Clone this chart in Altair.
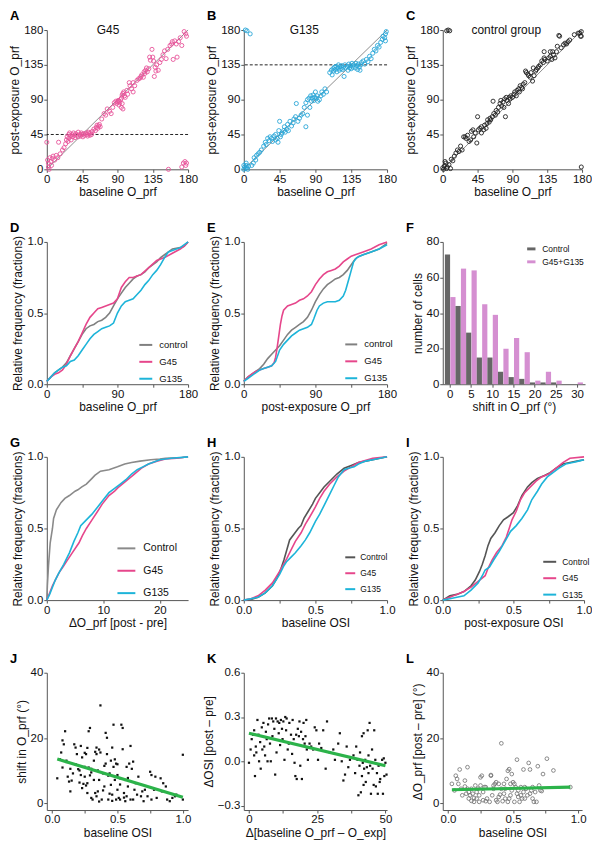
import altair as alt
import pandas as pd

FONT = "Liberation Sans"
PINK = "#e6468b"
CYAN = "#1db4d9"
GREY = "#808080"
DARK = "#555555"
ORCHID = "#d58fd1"
BARGREY = "#666666"
GREEN = "#2cb34a"

W = 142
W2 = 144
ROW_H = [140, 143, 144, 138]

# ---------------- Panel A-C data (baseline, post-exposure) ----------------
T180 = [0, 45, 90, 135, 180]
DIAG = [0, 180]
A_points = [(0,35),(1,12),(2,8),(2,3),(3,0),(4,15),(5,10),(6,5),(7,14),(8,17),(10,12),(12,18),(14,15),(15,35),(17,20),
            (20,25),(22,28),(24,33),(25,38),(26,42),(27,36),(28,45),(28,40),(29,47),(30,43),(31,38),(32,45),(33,42),
            (34,47),(35,44),(36,41),(37,46),(38,44),(40,48),(40,42),(42,45),(43,43),(44,47),(45,45),(46,42),(47,46),
            (48,44),(50,47),(51,45),(52,43),(53,48),(54,46),(55,44),(56,47),(57,45),(58,49),(60,52),(62,50),(63,54),
            (64,57),(65,53),(66,56),(67,58),(68,55),(70,65),(73,72),(75,70),(77,78),(80,75),(82,72),(84,80),(86,86),
            (88,88),(89,85),(90,87),(91,89),(92,88),(93,86),(94,90),(95,92),(96,96),(97,98),(98,100),(99,95),(100,93),
            (96,85),(97,78),(95,80),(92,83),(102,102),(103,97),(105,112),(106,108),(108,104),(110,100),(110,112),
            (112,108),(115,115),(117,117),(119,118),(120,120),(121,122),(123,119),(124,126),(125,124),(126,128),
            (127,131),(128,126),(130,130),(131,145),(132,141),(134,155),(135,145),(136,140),(137,120),(138,132),
            (139,127),(140,135),(142,128),(144,138),(146,142),(148,148),(150,153),(152,143),(154,155),(157,160),
            (159,162),(160,165),(161,142),(163,166),(165,162),(166,145),(168,165),(170,170),(172,160),(175,178),
            (177,175),(178,172),(155,0),(172,3),(174,8),(176,10),(178,8),(177,5)]
B_points = [(2,180),(4,179),(8,175),(0,0),(1,3),(2,1),(3,5),(4,2),(5,0),(6,4),(3,8),(0,5),
            (10,5),(12,8),(13,15),(15,12),(16,18),(18,20),(20,22),(22,25),(25,30),(27,35),(28,32),(30,40),(32,37),
            (33,42),(35,40),(36,36),(38,43),(40,38),(40,45),(42,40),(43,35),(44,50),(45,62),(46,42),(47,45),(48,47),
            (50,50),(51,55),(52,48),(54,52),(55,58),(56,50),(58,62),(60,56),(62,60),(63,65),(65,68),(66,85),(68,62),
            (70,66),(72,70),(74,72),(76,80),(78,55),(78,86),(80,70),(80,90),(82,92),(83,80),(84,95),(85,88),(86,92),
            (87,96),(88,89),(89,93),(90,100),(91,92),(92,95),(93,88),(95,90),(97,95),(98,100),(100,97),(102,104),
            (104,100),(108,125),(110,128),(111,122),(112,130),(113,127),(114,132),(115,129),(116,133),(117,126),
            (118,131),(119,135),(120,128),(121,133),(122,130),(123,134),(124,129),(125,132),(126,120),(127,135),
            (128,131),(130,133),(131,128),(132,136),(133,131),(134,134),(135,130),(136,137),(137,132),(138,135),
            (140,131),(141,137),(142,134),(143,129),(144,136),(145,132),(146,128),(147,135),(148,138),(150,140),
            (152,136),(154,142),(156,139),(158,146),(160,143),(162,150),(164,155),(166,153),(168,160),(170,158),
            (172,164),(174,168),(175,172),(177,170),(178,175),(178,166),(179,178)]
C_points = [(5,179),(9,179),(7,180),(179,3),(0,2),(1,0),(2,4),(4,8),(5,1),(6,3),(8,6),(10,1),(3,10),(11,13),
            (13,11),(15,17),(17,21),(19,25),(21,23),(23,30),(25,25),(27,42),(29,42),(30,40),(32,44),(34,36),(36,38),
            (37,49),(39,51),(40,42),(42,47),(44,34),(45,68),(46,51),(48,53),(50,47),(50,55),(53,51),(54,57),(56,53),
            (57,59),(58,64),(60,61),(61,66),(62,64),(64,68),(65,88),(66,72),(68,70),(69,76),(71,74),(72,80),(74,85),
            (75,89),(76,82),(78,87),(79,80),(80,91),(81,68),(82,93),(83,89),(85,85),(86,93),(87,91),(88,95),(90,93),
            (92,97),(93,100),(95,95),(96,102),(98,104),(99,100),(100,108),(102,106),(103,104),(104,110),(106,112),
            (107,127),(108,125),(110,123),(111,121),(113,119),(114,125),(116,114),(117,131),(118,121),(120,127),
            (121,129),(123,131),(124,133),(126,135),(128,140),(130,138),(131,144),(132,142),(135,140),(137,144),
            (139,146),(141,142),(143,148),(145,144),(147,152),(148,159),(150,173),(151,172),(153,157),(156,161),
            (158,163),(160,162),(162,165),(164,167),(170,174),(175,176),(177,176),(179,178),(178,172),(179,172),
            (142,152),(139,152),(131,152)]

# ---------------- Panels D, E (cumulative fractions) ----------------
D_control = [(0,0.02),(5,0.05),(10,0.08),(20,0.12),(25,0.15),(30,0.2),(35,0.25),(40,0.3),(45,0.35),(50,0.39),(55,0.41),
             (60,0.42),(65,0.44),(70,0.45),(75,0.47),(80,0.5),(85,0.55),(90,0.6),(95,0.64),(100,0.68),(105,0.71),(110,0.74),
             (115,0.76),(120,0.77),(125,0.79),(130,0.82),(140,0.86),(145,0.89),(150,0.91),(155,0.93),(160,0.95),(170,0.96),
             (175,0.97),(180,1.0)]
D_G45 = [(0,0.02),(5,0.05),(10,0.07),(15,0.08),(20,0.1),(25,0.14),(30,0.2),(35,0.25),(40,0.3),(45,0.36),(50,0.42),(55,0.47),
         (60,0.5),(65,0.53),(70,0.54),(75,0.55),(80,0.56),(85,0.57),(90,0.6),(95,0.68),(100,0.72),(105,0.75),(110,0.75),
         (115,0.76),(120,0.77),(130,0.82),(140,0.87),(150,0.89),(160,0.92),(170,0.95),(175,0.97),(180,1.0)]
D_G135 = [(0,0.02),(5,0.05),(10,0.08),(15,0.1),(20,0.12),(25,0.13),(30,0.16),(35,0.17),(40,0.2),(45,0.24),(50,0.28),(55,0.32),
          (60,0.35),(65,0.37),(70,0.39),(75,0.4),(80,0.41),(85,0.43),(90,0.5),(95,0.55),(100,0.58),(105,0.59),(110,0.6),
          (115,0.63),(120,0.66),(125,0.7),(130,0.73),(135,0.77),(140,0.8),(145,0.84),(150,0.89),(155,0.93),(160,0.94),
          (170,0.96),(180,1.0)]
E_control = [(0,0.02),(5,0.05),(10,0.07),(15,0.09),(20,0.11),(25,0.14),(30,0.18),(35,0.21),(40,0.24),(45,0.27),(50,0.31),
             (55,0.35),(60,0.38),(65,0.4),(70,0.42),(75,0.44),(80,0.47),(85,0.52),(90,0.58),(95,0.63),(100,0.67),(105,0.7),
             (110,0.72),(115,0.74),(120,0.75),(125,0.77),(130,0.8),(135,0.84),(140,0.88),(145,0.9),(150,0.91),(160,0.93),
             (170,0.95),(175,0.97),(180,0.99)]
E_G45 = [(0,0.02),(5,0.05),(10,0.07),(15,0.09),(20,0.1),(25,0.11),(30,0.12),(35,0.13),(38,0.15),(40,0.19),(42,0.26),(44,0.34),
         (46,0.42),(48,0.48),(50,0.52),(55,0.55),(60,0.56),(65,0.57),(70,0.59),(75,0.6),(80,0.62),(85,0.65),(90,0.7),
         (95,0.74),(100,0.77),(105,0.79),(110,0.8),(115,0.81),(120,0.83),(125,0.86),(130,0.88),(135,0.9),(140,0.91),
         (150,0.93),(160,0.95),(170,0.98),(180,1.0)]
E_G135 = [(0,0.02),(5,0.04),(10,0.06),(15,0.08),(20,0.1),(25,0.11),(30,0.12),(35,0.13),(40,0.16),(45,0.24),(50,0.28),(55,0.31),
          (60,0.34),(65,0.36),(70,0.38),(75,0.39),(80,0.4),(85,0.42),(88,0.46),(92,0.52),(95,0.55),(100,0.57),(105,0.58),
          (110,0.58),(115,0.58),(120,0.59),(125,0.62),(128,0.66),(132,0.74),(135,0.8),(138,0.86),(142,0.89),(150,0.91),
          (160,0.93),(170,0.95),(180,0.98)]

# ---------------- Panel F (histogram of shifts) ----------------
F_bins = ["0", "2.5", "5", "7.5", "10", "12.5", "15", "17.5", "20", "22.5", "25", "27.5", "30"]
F_control = [73, 44, 29, 15, 15, 7, 4, 3, 1, 1, 1, 0, 0]
F_exposed = [49, 65, 64, 45, 39, 20, 26, 18, 2, 7, 2, 0, 1]
F_groups = ["Control", "G45+G135"]

# ---------------- Panels G, H, I ----------------
G_control = [(0,0),(0.1,0.1),(0.3,0.24),(0.6,0.4),(1.0,0.5),(1.2,0.57),(1.7,0.63),(2.5,0.68),(3.2,0.71),(4,0.73),(5,0.76),
             (5.5,0.77),(6.2,0.79),(7,0.81),(8,0.85),(8.5,0.87),(9.5,0.9),(11,0.91),(12.5,0.93),(13.8,0.95),(15,0.96),
             (16.5,0.97),(18.4,0.98),(20,0.985),(21,0.99),(24,0.995),(25,1.0)]
G_G45 = [(0,0),(0.5,0.05),(1,0.1),(1.5,0.14),(2.3,0.2),(3,0.24),(3.5,0.27),(4.5,0.33),(5.7,0.4),(6.3,0.45),(7,0.5),(8,0.56),
         (9,0.62),(9.8,0.67),(11,0.73),(12,0.76),(12.6,0.785),(14,0.83),(15.5,0.88),(16.7,0.92),(18,0.95),(19.5,0.97),
         (21,0.985),(23,0.99),(25,1.0)]
G_G135 = [(0,0),(0.5,0.04),(1,0.09),(1.5,0.14),(2,0.18),(3,0.25),(4,0.33),(4.8,0.41),(5.5,0.47),(6,0.52),(7,0.56),(8,0.6),
          (9,0.65),(10,0.7),(11,0.75),(12,0.78),(13,0.81),(14,0.84),(15,0.88),(16,0.91),(17,0.93),(18,0.95),(20,0.98),
          (22,0.99),(25,1.0)]
H_control = [(0,0),(0.05,0.005),(0.1,0.02),(0.15,0.05),(0.2,0.1),(0.23,0.15),(0.26,0.22),(0.28,0.28),(0.3,0.35),(0.32,0.42),
             (0.35,0.46),(0.38,0.5),(0.4,0.52),(0.42,0.57),(0.45,0.62),(0.48,0.67),(0.5,0.71),(0.53,0.75),(0.56,0.79),
             (0.6,0.83),(0.65,0.88),(0.7,0.92),(0.75,0.94),(0.8,0.96),(0.85,0.97),(0.9,0.98),(0.95,0.99),(1.0,1.0)]
H_G45 = [(0,0),(0.05,0.01),(0.1,0.03),(0.15,0.07),(0.2,0.12),(0.25,0.2),(0.3,0.29),(0.33,0.35),(0.36,0.41),(0.4,0.47),
         (0.43,0.53),(0.46,0.58),(0.5,0.65),(0.53,0.71),(0.56,0.76),(0.6,0.81),(0.65,0.86),(0.7,0.9),(0.75,0.93),
         (0.8,0.96),(0.9,0.99),(1.0,1.0)]
H_G135 = [(0,0),(0.05,0.01),(0.1,0.02),(0.15,0.05),(0.2,0.1),(0.25,0.18),(0.28,0.24),(0.3,0.27),(0.33,0.3),(0.36,0.33),
          (0.4,0.38),(0.43,0.42),(0.46,0.47),(0.5,0.55),(0.53,0.6),(0.56,0.66),(0.6,0.74),(0.63,0.8),(0.66,0.86),
          (0.7,0.91),(0.73,0.92),(0.77,0.93),(0.8,0.95),(0.85,0.97),(0.9,0.98),(1.0,1.0)]
I_control = [(0,0),(0.05,0.03),(0.1,0.04),(0.15,0.06),(0.2,0.1),(0.23,0.14),(0.26,0.2),(0.28,0.25),(0.3,0.31),(0.32,0.38),
             (0.34,0.43),(0.37,0.47),(0.4,0.52),(0.43,0.56),(0.46,0.58),(0.5,0.61),(0.53,0.66),(0.56,0.73),(0.6,0.79),
             (0.63,0.82),(0.67,0.85),(0.72,0.87),(0.76,0.89),(0.8,0.92),(0.85,0.95),(0.9,0.96),(0.95,0.97),(1.0,0.98)]
I_G45 = [(0,0),(0.05,0.02),(0.1,0.04),(0.15,0.06),(0.2,0.09),(0.25,0.13),(0.3,0.17),(0.32,0.22),(0.35,0.28),(0.38,0.33),
         (0.42,0.38),(0.45,0.44),(0.47,0.5),(0.49,0.56),(0.52,0.62),(0.55,0.7),(0.58,0.75),(0.62,0.79),(0.66,0.83),
         (0.7,0.86),(0.75,0.88),(0.8,0.92),(0.85,0.96),(0.9,0.99),(1.0,1.0)]
I_G135 = [(0,0),(0.05,0.01),(0.1,0.02),(0.15,0.03),(0.2,0.07),(0.25,0.12),(0.28,0.17),(0.3,0.21),(0.33,0.23),(0.36,0.28),
          (0.4,0.34),(0.44,0.41),(0.48,0.48),(0.52,0.52),(0.56,0.57),(0.6,0.63),(0.63,0.7),(0.67,0.76),(0.7,0.81),
          (0.74,0.86),(0.78,0.89),(0.82,0.92),(0.87,0.95),(0.92,0.96),(0.96,0.97),(1.0,0.98)]

# ---------------- Panels J, K, L ----------------
J_points = [(0.04,7.7),(0.07,15.6),(0.08,19.3),(0.1,22.1),(0.09,18.1),(0.11,13.1),(0.12,8.2),(0.13,6.7),(0.14,10.6),
            (0.14,3.7),(0.16,9.2),(0.17,18.1),(0.18,17.1),(0.19,15.1),(0.21,10.1),(0.21,6.4),(0.22,8.7),(0.22,17.6),
            (0.23,14.1),(0.23,4.7),(0.25,11.2),(0.25,8.2),(0.26,15.1),(0.27,6.2),(0.27,3.2),(0.28,22.1),(0.29,23.1),
            (0.3,10.6),(0.3,1.7),(0.31,1.2),(0.32,7.2),(0.32,13.1),(0.33,3.2),(0.34,15.1),(0.34,17.1),(0.35,10.1),
            (0.35,3.7),(0.36,7.2),(0.37,30),(0.37,15.6),(0.38,1.2),(0.39,9.2),(0.4,5.2),(0.41,12.2),(0.41,21.6),
            (0.42,20.1),(0.42,15.1),(0.43,1.2),(0.44,9.2),(0.45,5.7),(0.45,13.1),(0.46,2.7),(0.46,17.1),(0.47,11.2),
            (0.47,24.1),(0.48,7.2),(0.49,1.2),(0.49,12.2),(0.5,8.7),(0.5,4.2),(0.51,1.7),(0.52,7.7),(0.52,1.2),
            (0.53,24.1),(0.54,16.6),(0.54,23.1),(0.55,3.2),(0.56,7.2),(0.56,0.7),(0.57,2.2),(0.57,11.2),(0.58,5.2),
            (0.59,12.2),(0.6,1.2),(0.6,17.6),(0.61,10.6),(0.62,1.2),(0.63,4.2),(0.64,6.2),(0.65,2.7),(0.66,8.2),
            (0.68,2.2),(0.69,3.7),(0.7,0.7),(0.71,4.2),(0.73,2.2),(0.75,9.7),(0.76,8.7),(0.76,1.2),(0.78,4.2),
            (0.79,8.2),(0.8,1.7),(0.83,7.7),(0.84,3.7),(0.85,6.2),(0.87,5.2),(0.88,1.2),(0.9,0.7),(0.92,1.7),
            (0.94,2.2),(0.95,2.7),(1.0,1.2),(1.0,14.9),(0.24,6),(0.26,5.5),(0.3,9.5),(0.28,11),(0.33,15.8),
            (0.36,16.5),(0.4,11.5),(0.43,8.5),(0.39,4),(0.44,3),(0.5,12),(0.52,5.8),(0.2,10.5),(0.18,12),(0.15,7),
            (0.11,12.7),(0.06,13.5),(0.08,11),(0.25,15.5),(0.27,17),(0.29,8.6),(0.34,2.2),(0.36,0.6),(0.46,0.8),
            (0.55,1.8),(0.58,7.8),(0.62,12.8),(0.48,13.5)]
J_fit = [(0.04,13.6),(1.0,1.9)]
K_points = [(0,-0.01),(0.6,0.08),(1,0.15),(1.5,0.18),(1.9,0.21),(1.9,0.04),(2.2,-0.1),(2.5,0.1),(2.7,0.06),(3.1,0.28),
            (3.5,0.18),(3.7,0.0),(4.1,0.13),(4.3,-0.05),(4.7,0.23),(4.9,0.08),(5.3,0.26),(5.6,0.1),(5.9,0.04),(6.2,0.2),
            (6.5,0.15),(6.8,0.0),(7,0.25),(7.4,0.29),(7.7,0.12),(8,0.0),(8.4,0.29),(8.6,0.17),(8.9,0.27),(9.3,0.22),
            (9.6,-0.09),(9.9,0.29),(10.1,0.06),(10.5,0.27),(10.9,0.19),(11.1,0.26),(11.4,0.11),(11.7,0.28),(12.1,0.22),
            (12.3,0.15),(12.6,0.27),(13,0.01),(13.3,0.3),(13.6,0.21),(13.8,0.29),(14.2,0.08),(14.6,0.12),(14.8,0.26),
            (15.4,0.18),(15.8,0.05),(16,0.28),(16.4,0.15),(16.7,-0.01),(17,-0.1),(17.3,0.18),(17.5,-0.12),(17.9,0.22),
            (18.3,0.17),(18.5,0.27),(18.8,-0.03),(19.1,0.2),(19.4,-0.12),(19.8,0.15),(20,0.26),(20.4,0.12),(20.7,0.17),
            (21,0.28),(21.2,0.08),(21.6,0.01),(22.2,0.12),(22.8,0.1),(23.5,0.08),(24.1,0.23),(24.7,0.21),(25.3,0.01),
            (25.7,0.12),(26.5,0.09),(27.2,0.21),(28.1,-0.05),(28.6,0.27),(29.6,0.06),(30.9,0.08),(31.5,0.01),
            (32.7,0.12),(33.3,0.19),(34,0.0),(34.6,-0.13),(35.2,-0.09),(35.8,0.1),(36.4,-0.04),(37,0.01),(38.3,0.04),
            (38.9,-0.08),(39.3,0.1),(39.8,0.01),(40.1,-0.23),(40.5,-0.03),(40.7,0.06),(41,-0.21),(41.4,0.17),
            (41.4,-0.1),(41.7,-0.01),(42,0.19),(42,-0.16),(42.2,-0.05),(42.6,0.01),(42.8,-0.14),(43.2,-0.04),
            (43.5,0.21),(43.8,-0.08),(43.8,0.04),(44.2,0.26),(44.4,-0.03),(44.7,-0.22),(45.1,0.08),(45.3,-0.05),
            (45.7,-0.16),(45.9,0.21),(46.3,0.01),(46.5,-0.17),(46.9,-0.08),(47.2,-0.22),(47.5,-0.03),(47.9,-0.14),
            (48.1,-0.12),(48.8,0.01),(49.1,-0.22),(49.4,0.02),(49.6,-0.1),(50,-0.01),(50.4,-0.09)]
K_fit = [(0,0.19),(50,-0.03)]
L_points = [(0.03,6.0),(0.05,4.0),(0.06,8.5),(0.07,7.5),(0.08,6.0),(0.09,10.4),(0.1,4.5),(0.11,2.5),(0.13,7.0),(0.13,5.2),
            (0.14,3.0),(0.15,4.5),(0.15,11.1),(0.16,1.5),(0.16,3.5),(0.17,2.5),(0.18,0.8),(0.18,4.5),(0.19,3.0),(0.2,0.5),
            (0.2,1.7),(0.21,5.5),(0.22,3.5),(0.22,1.5),(0.23,4.5),(0.24,0.5),(0.24,2.5),(0.25,5.5),(0.25,8.0),(0.26,8.5),
            (0.27,1.0),(0.27,3.5),(0.28,5.0),(0.29,0.7),(0.29,5.0),(0.3,1.5),(0.32,0.5),(0.33,8.5),(0.33,8.7),(0.34,2.5),
            (0.35,4.5),(0.35,5.5),(0.36,6.0),(0.37,6.5),(0.37,1.0),(0.38,0.5),(0.39,2.0),(0.39,6.0),(0.4,2.7),(0.41,4.5),
            (0.41,18.4),(0.42,0.7),(0.43,6.0),(0.43,3.0),(0.44,1.5),(0.44,4.5),(0.45,7.5),(0.46,0.5),(0.46,10.0),
            (0.47,10.5),(0.47,1.5),(0.48,6.0),(0.48,2.5),(0.49,9.0),(0.49,4.0),(0.5,6.5),(0.51,6.0),(0.51,0.5),(0.52,5.0),
            (0.53,3.0),(0.53,13.4),(0.54,2.0),(0.54,4.0),(0.55,0.5),(0.56,5.0),(0.56,2.5),(0.57,1.5),(0.58,10.4),
            (0.58,3.5),(0.59,5.0),(0.59,1.5),(0.6,4.5),(0.61,2.5),(0.62,12.4),(0.63,3.0),(0.63,10.4),(0.64,4.0),
            (0.65,1.5),(0.65,5.0),(0.66,0.5),(0.67,3.5),(0.68,0.5),(0.69,11.4),(0.7,5.5),(0.71,4.0),(0.72,3.8),
            (0.73,9.0),(0.76,13.7),(0.81,10.1),(0.94,5.0)]
L_fit = [(0.03,4.2),(0.94,5.0)]


def letter_mark(letter):
    # panel letter, placed just above the top-left corner of the plot area
    return alt.Chart(pd.DataFrame({"t": [letter]})).mark_text(
        font=FONT, fontSize=13, fontWeight="bold", color="#000", align="left", baseline="alphabetic"
    ).encode(text="t:N", x=alt.value(-37), y=alt.value(-10))


def orient_scatter(letter, pts, color, label, label_x, hline=None, width=W):
    xs = alt.Scale(domain=DIAG, nice=False)
    ys = alt.Scale(domain=DIAG, nice=False)
    x = alt.X("x:Q", scale=xs, axis=alt.Axis(values=T180, title="baseline O_prf"))
    y = alt.Y("y:Q", scale=ys, axis=alt.Axis(values=T180, title="post-exposure O_prf"))
    diag = alt.Chart(pd.DataFrame({"x": DIAG, "y": DIAG})).mark_line(
        color="#8c8c8c", strokeWidth=1).encode(x=x, y=y)
    layers = [diag]
    if hline is not None:
        layers.append(alt.Chart(pd.DataFrame({"y": [hline]})).mark_rule(
            strokeDash=[3, 2], color="#222", strokeWidth=1).encode(y=y))
    layers.append(alt.Chart(pd.DataFrame(pts, columns=["x", "y"])).mark_point(
        shape="circle", size=17, strokeWidth=0.9, color=color, filled=False, opacity=1).encode(x=x, y=y))
    layers.append(alt.Chart(pd.DataFrame({"x": [label_x], "y": [180], "t": [label]})).mark_text(
        font=FONT, fontSize=12, color="#111").encode(x=x, y=y, text="t:N"))
    layers.append(letter_mark(letter))
    return alt.layer(*layers).properties(width=width, height=ROW_H[0])


def ecdf(letter, series, names, colors, xdom, xvals, xexpr, xtitle, legend, height, width=W):
    rows = []
    for name, pts in zip(names, series):
        for i, (a, b) in enumerate(pts):
            rows.append({"g": name, "x": a, "y": b, "i": i})
    df = pd.DataFrame(rows)
    lines = alt.Chart(df).mark_line(strokeWidth=1.6).encode(
        x=alt.X("x:Q", scale=alt.Scale(domain=xdom, nice=False),
                axis=alt.Axis(values=xvals, title=xtitle, labelExpr=xexpr)),
        y=alt.Y("y:Q", scale=alt.Scale(domain=[0, 1], nice=False),
                axis=alt.Axis(values=[0, 0.5, 1], format=".1f", title="Relative frequency (fractions)")),
        color=alt.Color("g:N", scale=alt.Scale(domain=names, range=colors), legend=legend),
        order="i:Q",
    )
    return alt.layer(lines, letter_mark(letter)).properties(width=width, height=height)


def line_legend(size, length, spacing, lx, ly, gap=6):
    return alt.Legend(title=None, orient="none", legendX=lx, legendY=ly, labelFontSize=size,
                      symbolType="stroke", symbolSize=length * length, symbolStrokeWidth=2,
                      rowPadding=spacing - size, labelOffset=gap, padding=0, labelFont=FONT,
                      labelColor="#111", labelLimit=80)


A = orient_scatter("A", A_points, "#e8559a", "G45", 78, 45)
B = orient_scatter("B", B_points, "#2aa7d8", "G135", 76, 135, width=W2)
C = orient_scatter("C", C_points, "#222222", "control group", 82, width=140)

H180 = "datum.value % 90 == 0 ? datum.label : ''"
D = ecdf("D", [D_control, D_G45, D_G135], ["control", "G45", "G135"], [GREY, PINK, CYAN], DIAG, T180, H180,
         "baseline O_prf", line_legend(9.5, 13, 14.5, 92, 96), ROW_H[1])
E = ecdf("E", [E_control, E_G45, E_G135], ["control", "G45", "G135"], [GREY, PINK, CYAN], DIAG, T180, H180,
         "post-exposure O_prf", line_legend(9.5, 12, 14.5, 101, 96), ROW_H[1], width=W2)

f_rows = []
for b, c, e in zip(F_bins, F_control, F_exposed):
    f_rows.append({"bin": b, "group": F_groups[0], "n": c})
    f_rows.append({"bin": b, "group": F_groups[1], "n": e})
F_bars = alt.Chart(pd.DataFrame(f_rows)).mark_bar().encode(
    x=alt.X("bin:N", sort=F_bins, scale=alt.Scale(paddingInner=0, paddingOuter=0.2),
            axis=alt.Axis(values=["0", "5", "10", "15", "20", "25", "30"], labelAngle=0,
                          title="shift in O_prf (°)")),
    xOffset=alt.XOffset("group:N", sort=F_groups, scale=alt.Scale(paddingInner=0.04)),
    y=alt.Y("n:Q", scale=alt.Scale(domain=[0, 80], nice=False),
            axis=alt.Axis(values=[0, 20, 40, 60, 80], title="number of cells")),
    color=alt.Color("group:N", scale=alt.Scale(domain=F_groups, range=[BARGREY, ORCHID]),
                    legend=alt.Legend(title=None, orient="none", legendX=84, legendY=2, labelFontSize=8.5,
                                      symbolType="M-1,-0.35H1V0.35H-1Z", symbolSize=70, rowPadding=3,
                                      labelOffset=6, padding=0, labelFont=FONT, labelColor="#111")),
)
F = alt.layer(F_bars, letter_mark("F")).properties(width=143, height=ROW_H[1])

G = ecdf("G", [G_control, G_G45, G_G135], ["Control", "G45", "G135"], ["#8a8a8a", PINK, CYAN], [0, 25],
         [0, 10, 20], "datum.label", "ΔO_prf [post - pre]", line_legend(10.5, 18, 17, 70, 82, 7), ROW_H[2])
HOSI = "datum.value == 0.25 || datum.value == 0.75 ? '' : format(datum.value, '.1f')"
OSI_T = [0, 0.25, 0.5, 0.75, 1]
H = ecdf("H", [H_control, H_G45, H_G135], ["Control", "G45", "G135"], [DARK, PINK, CYAN], [0, 1],
         OSI_T, HOSI, "baseline OSI", line_legend(8.5, 10, 13.5, 101, 95, 4), ROW_H[2], width=W2)
I = ecdf("I", [I_control, I_G45, I_G135], ["Control", "G45", "G135"], [DARK, PINK, CYAN], [0, 1],
         OSI_T, HOSI, "post-exposure OSI", line_legend(8.5, 13, 13, 100, 98, 5), ROW_H[2])


def corr_panel(letter, pts, fit, xdom, ydom, xvals, xexpr, yvals, yfmt, xtitle, ytitle, hollow, width=W):
    x = alt.X("x:Q", scale=alt.Scale(domain=xdom, nice=False),
              axis=alt.Axis(values=xvals, labelExpr=xexpr, title=xtitle))
    y = alt.Y("y:Q", scale=alt.Scale(domain=ydom, nice=False),
              axis=alt.Axis(values=yvals, format=yfmt, title=ytitle))
    df = pd.DataFrame(pts, columns=["x", "y"])
    if hollow:
        dots = alt.Chart(df).mark_point(shape="circle", size=14, strokeWidth=0.8, color="#6e6e6e",
                                        filled=False, opacity=1).encode(x=x, y=y)
    else:
        dots = alt.Chart(df).mark_square(size=5, color="#111", opacity=1).encode(x=x, y=y)
    fitl = alt.Chart(pd.DataFrame(fit, columns=["x", "y"])).mark_line(
        color=GREEN, strokeWidth=3.2).encode(x=x, y=y)
    return alt.layer(dots, fitl, letter_mark(letter)).properties(width=width, height=ROW_H[3])


J = corr_panel("J", J_points, J_fit, [-0.04, 1.04], [-2, 40], OSI_T, HOSI, [0, 20, 40], "d",
               "baseline OSI", "shift in O_prf (°)", False)
K = corr_panel("K", K_points, K_fit, [-1.9, 50.6], [-0.33, 0.6], [0, 12.5, 25, 37.5, 50],
               "datum.value % 25 == 0 ? datum.label : ''", [-0.3, 0, 0.3, 0.6], ".1f",
               "Δ[baseline O_prf – O_exp]", "ΔOSI [post – pre]", False, width=W2)
L = corr_panel("L", L_points, L_fit, [-0.04, 1.03], [-2, 40], OSI_T, HOSI, [0, 20, 40], "d",
               "baseline OSI", "ΔO_prf [post – pre]  (°)", True, width=140)

chart = alt.concat(A, B, C, D, E, F, G, H, I, J, K, L, columns=3,
                   spacing={"row": 73, "column": 56}, bounds="flush", align="each",
                   padding=0).resolve_scale(color="independent").configure(font=FONT).configure_axis(
    labelFont=FONT, titleFont=FONT, labelFontSize=11.5, titleFontSize=12, titleFontWeight="normal",
    labelColor="#111", titleColor="#111", domainColor="#555", tickColor="#555", tickSize=3, grid=False,
    labelPadding=1, titlePadding=2, labelFlush=False
).configure_view(stroke=None)

chart.save("out.html", embed_options={"renderer": "svg", "actions": False})
